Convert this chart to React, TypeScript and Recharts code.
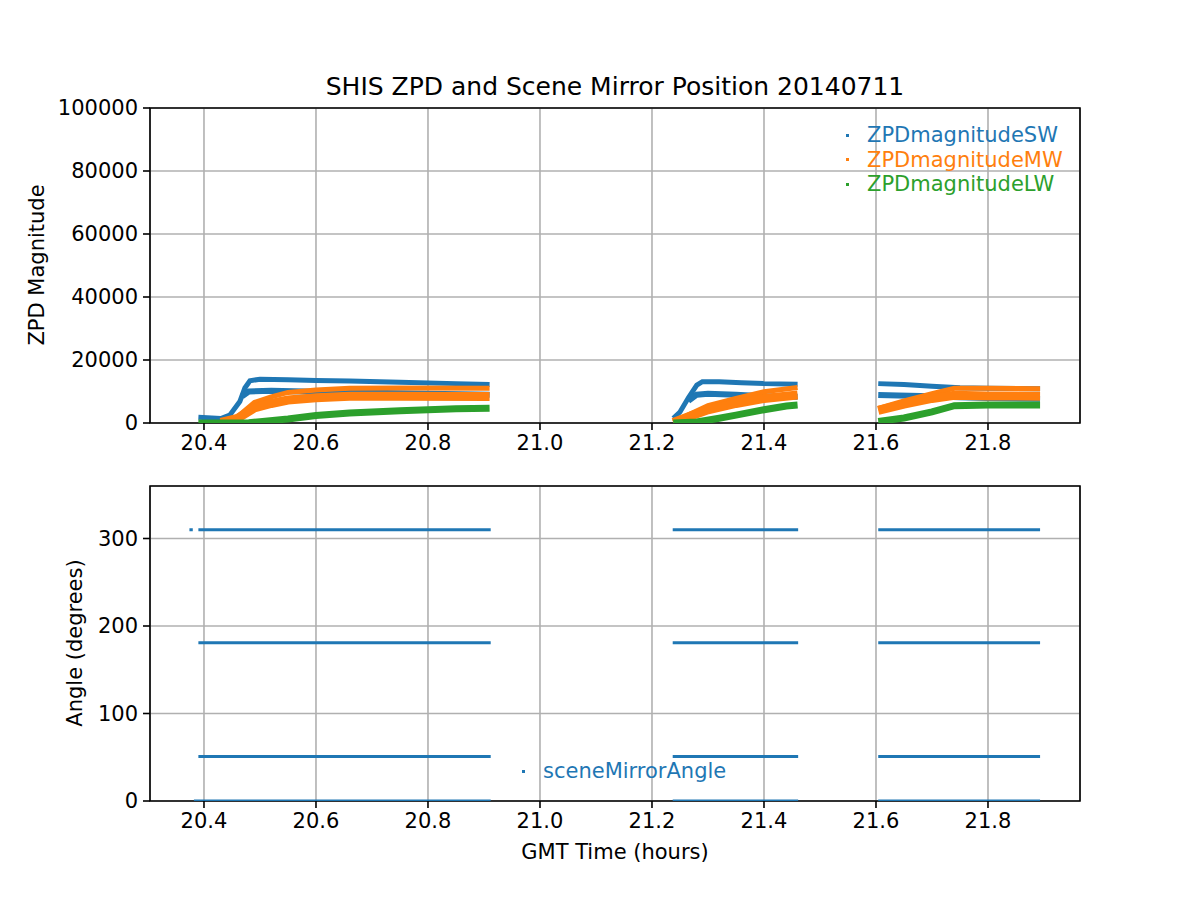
import { LineChart, Line, XAxis, YAxis, CartesianGrid, ReferenceArea } from 'recharts';

// hours (GMT) — axis and ticks
const xMin = 20.3036;
const xMax = 21.9643;
const xTicks = [20.4, 20.6, 20.8, 21.0, 21.2, 21.4, 21.6, 21.8];
const zpdTicks = [0, 20000, 40000, 60000, 80000, 100000];
const angleTicks = [0, 100, 200, 300];

// ZPD magnitude: [hour, value]; null breaks the line between runs
const swUpper: [number, number | null][] = [
  [20.39, 1800], [20.43, 1400], [20.446, 2500], [20.464, 6800], [20.473, 11100], [20.482, 13400],
  [20.5, 13900], [20.55, 13700], [20.6, 13500], [20.66, 13300], [20.75, 12900], [20.85, 12500], [20.91, 12200],
  [21.0, null],
  [21.238, 1500], [21.25, 3500], [21.265, 8000], [21.28, 12000], [21.29, 13100], [21.32, 13100],
  [21.36, 12800], [21.4, 12500], [21.46, 12300],
  [21.5, null],
  [21.604, 12500], [21.65, 12200], [21.7, 11700], [21.75, 11200], [21.8, 11000], [21.893, 10900],
];
const swLower: [number, number | null][] = [
  [20.468, 8500], [20.48, 10000], [20.52, 10200], [20.6, 9900], [20.7, 9600], [20.8, 9300], [20.91, 9000],
  [21.0, null],
  [21.265, 7000], [21.28, 9000], [21.3, 9300], [21.35, 9000], [21.4, 8500], [21.46, 8300],
  [21.5, null],
  [21.604, 8900], [21.64, 8700], [21.7, 8500], [21.75, 8200], [21.8, 7900], [21.893, 7700],
];
const mwUpper: [number, number | null][] = [
  [20.43, 200], [20.46, 2000], [20.49, 6500], [20.52, 8300], [20.55, 9700], [20.6, 10500],
  [20.66, 11000], [20.75, 11100], [20.91, 11000],
  [21.0, null],
  [21.238, 300], [21.27, 3000], [21.3, 5500], [21.35, 7800], [21.4, 9900], [21.46, 11300],
  [21.5, null],
  [21.604, 4600], [21.65, 7000], [21.7, 9300], [21.74, 11000], [21.8, 11000], [21.893, 10900],
];
const mwLower: [number, number | null][] = [
  [20.43, 200], [20.46, 1500], [20.49, 4800], [20.52, 6200], [20.55, 7300], [20.6, 8000],
  [20.66, 8500], [20.75, 8500], [20.91, 8400],
  [21.0, null],
  [21.238, 200], [21.27, 2300], [21.3, 4200], [21.35, 6200], [21.4, 7800], [21.46, 8900],
  [21.5, null],
  [21.604, 4000], [21.65, 6000], [21.7, 7800], [21.74, 8800], [21.8, 8600], [21.893, 8500],
];
const lw: [number, number | null][] = [
  [20.39, 0], [20.48, 100], [20.5, 400], [20.55, 1300], [20.6, 2400], [20.66, 3200],
  [20.75, 3900], [20.85, 4500], [20.91, 4700],
  [21.0, null],
  [21.238, 0], [21.28, 300], [21.32, 1500], [21.35, 2500], [21.4, 4200], [21.44, 5400], [21.46, 5700],
  [21.5, null],
  [21.604, 500], [21.65, 1600], [21.7, 3500], [21.74, 5500], [21.8, 5700], [21.893, 5700],
];

// scene mirror: the run start/end hours and the four angle positions
const runStarts = [20.39, 21.237, 21.604];
const runEnds = [20.912, 21.461, 21.893];
const mirrorAngles = [0, 51, 181, 310];
const strayPoint: [number, number] = [20.377, 310];

const BLUE = '#1f77b4';
const ORANGE = '#ff7f0e';
const GREEN = '#2ca02c';
const FONT = '"DejaVu Sans", sans-serif';

const toRows = (pts: [number, number | null][]) => pts.map(([t, v]) => ({ t, v }));

const angleRows = (a: number) => {
  const rows: { t: number; v: number | null }[] = [];
  runStarts.forEach((s, i) => {
    if (a === 0 && i === 0) rows.push({ t: 20.382, v: a });
    else rows.push({ t: s, v: a });
    rows.push({ t: runEnds[i], v: a });
    rows.push({ t: runEnds[i] + 0.02, v: null });
  });
  return rows;
};

const tickStyle = { fill: '#000', fontSize: 21, fontFamily: FONT };

const zpdSeries = [
  { key: 'swU', data: swUpper, color: BLUE, w: 5 },
  { key: 'swL', data: swLower, color: BLUE, w: 6 },
  { key: 'mwU', data: mwUpper, color: ORANGE, w: 5 },
  { key: 'mwL', data: mwLower, color: ORANGE, w: 9 },
  { key: 'lw', data: lw, color: GREEN, w: 7 },
];

const legendTop = [
  { name: 'ZPDmagnitudeSW', color: BLUE },
  { name: 'ZPDmagnitudeMW', color: ORANGE },
  { name: 'ZPDmagnitudeLW', color: GREEN },
];

function LegendRow({ name, color, x, y }: { name: string; color: string; x: number; y: number }) {
  return (
    <div style={{ position: 'absolute', left: x, top: y - 13, height: 26, display: 'flex', alignItems: 'center' }}>
      <span style={{ width: 3, height: 3, background: color, display: 'inline-block', marginRight: 18 }} />
      <span style={{ color, fontSize: 21, fontFamily: FONT, lineHeight: '26px' }}>{name}</span>
    </div>
  );
}

export default function App() {
  return (
    <div style={{ position: 'absolute', left: 0, top: 0, width: 1200, height: 900, background: '#fff', fontFamily: FONT }}>
      {/* Title */}
      <div style={{ position: 'absolute', left: 150, width: 930, top: 72, textAlign: 'center', fontSize: 25, color: '#000' }}>
        SHIS ZPD and Scene Mirror Position 20140711
      </div>

      {/* Top panel */}
      <div style={{ position: 'absolute', left: 0, top: 0 }}>
        <LineChart width={1200} height={460} margin={{ top: 108, right: 120, left: 0, bottom: 7 }}>
          <CartesianGrid stroke="#b0b0b0" strokeWidth={1.6} />
          <XAxis
            type="number"
            dataKey="t"
            domain={[xMin, xMax]}
            ticks={xTicks}
            allowDataOverflow
            tickFormatter={(v: number) => v.toFixed(1)}
            axisLine={false}
            tickLine={{ stroke: '#000', strokeWidth: 1.6 }}
            tickSize={7}
            tickMargin={5}
            height={30}
            tick={tickStyle}
          />
          <YAxis
            type="number"
            domain={[0, 100000]}
            ticks={zpdTicks}
            allowDataOverflow
            axisLine={false}
            tickLine={{ stroke: '#000', strokeWidth: 1.6 }}
            tickSize={7}
            tickMargin={5}
            width={150}
            tick={tickStyle}
          />
          {zpdSeries.map((s) => (
            <Line
              key={s.key}
              data={toRows(s.data)}
              dataKey="v"
              stroke={s.color}
              strokeWidth={s.w}
              dot={false}
              isAnimationActive={false}
              connectNulls={false}
            />
          ))}
          <ReferenceArea x1={xMin} x2={xMax} y1={0} y2={100000} fill="none" stroke="#000" strokeWidth={1.6} ifOverflow="visible" />
        </LineChart>
      </div>

      {/* Bottom panel */}
      <div style={{ position: 'absolute', left: 0, top: 460 }}>
        <LineChart width={1200} height={440} margin={{ top: 26, right: 120, left: 0, bottom: 69 }}>
          <CartesianGrid stroke="#b0b0b0" strokeWidth={1.6} />
          <XAxis
            type="number"
            dataKey="t"
            domain={[xMin, xMax]}
            ticks={xTicks}
            allowDataOverflow
            tickFormatter={(v: number) => v.toFixed(1)}
            axisLine={false}
            tickLine={{ stroke: '#000', strokeWidth: 1.6 }}
            tickSize={7}
            tickMargin={5}
            height={30}
            tick={tickStyle}
          />
          <YAxis
            type="number"
            domain={[0, 360]}
            ticks={angleTicks}
            allowDataOverflow
            axisLine={false}
            tickLine={{ stroke: '#000', strokeWidth: 1.6 }}
            tickSize={7}
            tickMargin={5}
            width={150}
            tick={tickStyle}
          />
          {mirrorAngles.map((a) => (
            <Line
              key={a}
              data={angleRows(a)}
              dataKey="v"
              stroke={BLUE}
              strokeWidth={3}
              dot={false}
              isAnimationActive={false}
              connectNulls={false}
            />
          ))}
          <Line
            data={[{ t: strayPoint[0] - 0.003, v: strayPoint[1] }, { t: strayPoint[0] + 0.003, v: strayPoint[1] }]}
            dataKey="v"
            stroke={BLUE}
            strokeWidth={3}
            dot={false}
            isAnimationActive={false}
          />
          <ReferenceArea x1={xMin} x2={xMax} y1={0} y2={360} fill="none" stroke="#000" strokeWidth={1.6} ifOverflow="visible" />
        </LineChart>
      </div>

      {/* Legends */}
      {legendTop.map((l, i) => (
        <LegendRow key={l.name} name={l.name} color={l.color} x={846} y={135 + i * 24.5} />
      ))}
      <LegendRow name="sceneMirrorAngle" color={BLUE} x={522} y={771} />

      {/* Axis labels */}
      <div style={{ position: 'absolute', left: 150, width: 930, top: 840, textAlign: 'center', fontSize: 21, color: '#000' }}>
        GMT Time (hours)
      </div>
      <div style={{ position: 'absolute', left: 37, top: 265, width: 0, height: 0 }}>
        <div style={{ position: 'absolute', transform: 'translate(-50%, -50%) rotate(-90deg)', whiteSpace: 'nowrap', fontSize: 21, color: '#000' }}>
          ZPD Magnitude
        </div>
      </div>
      <div style={{ position: 'absolute', left: 75, top: 643, width: 0, height: 0 }}>
        <div style={{ position: 'absolute', transform: 'translate(-50%, -50%) rotate(-90deg)', whiteSpace: 'nowrap', fontSize: 21, color: '#000' }}>
          Angle (degrees)
        </div>
      </div>
    </div>
  );
}
